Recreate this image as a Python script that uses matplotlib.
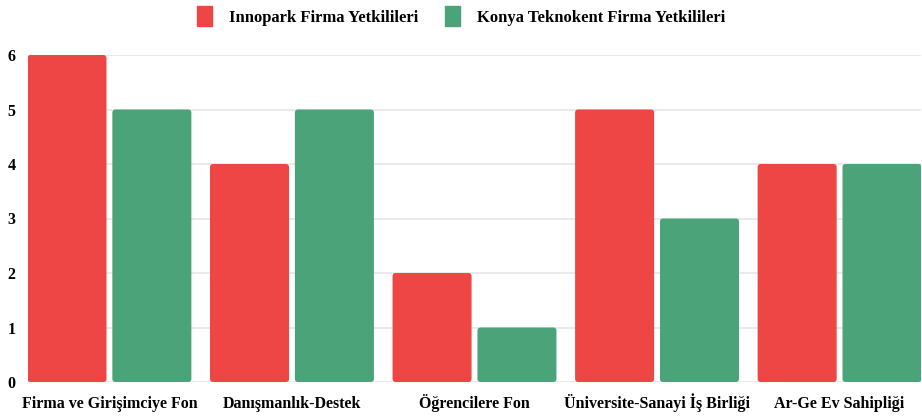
import matplotlib
matplotlib.use("Agg")
import matplotlib.pyplot as plt
import numpy as np
from matplotlib.patches import Patch, FancyBboxPatch

categories = ["Firma ve Girişimciye Fon", "Danışmanlık-Destek", "Öğrencilere Fon",
              "Üniversite-Sanayi İş Birliği", "Ar-Ge Ev Sahipliği"]
innopark = [6, 4, 2, 5, 4]
konya = [5, 5, 1, 3, 4]
series_names = ["Innopark Firma Yetkilileri", "Konya Teknokent Firma Yetkilileri"]

red = "#EE4545"
green = "#4BA479"

plt.rcParams['font.family'] = ['Liberation Serif', 'DejaVu Serif']
plt.rcParams['font.weight'] = 'bold'

fig = plt.figure(figsize=(9.22, 4.17), dpi=100)
ax = fig.add_axes([28 / 922, 1 - 382 / 417, 893 / 922, 327 / 417])

x = np.arange(len(categories))
w = 0.433
off = w / 2 + 0.016
bars = list(ax.bar(x - off, innopark, w, color=red, zorder=3)) + \
    list(ax.bar(x + off, konya, w, color=green, zorder=3))

# rounded corners
for b in bars:
    bx, by = b.get_xy()
    p = FancyBboxPatch((bx, by), b.get_width(), b.get_height(),
                       boxstyle="round,pad=0,rounding_size=0.018",
                       mutation_aspect=3.3, facecolor=b.get_facecolor(),
                       edgecolor="none", zorder=3)
    b.remove()
    ax.add_patch(p)

ax.set_xlim(-0.5 + 0.054, len(categories) - 0.5 - 0.054)
ax.set_ylim(0, 6)
ax.set_yticks(range(7))
ax.yaxis.grid(True, color="#e6e6e6", linewidth=1.2, zorder=0)
for s in ax.spines.values():
    s.set_visible(False)
ax.tick_params(axis="both", length=0, labelsize=11.5)
ax.tick_params(axis="y", pad=9)
ax.set_xticks(x)
ax.set_xticklabels(categories, va="baseline")
ax.tick_params(axis="x", pad=19)

fig.legend(handles=[Patch(color=red), Patch(color=green)], labels=series_names,
           loc="center", bbox_to_anchor=(0.5, 1 - 16 / 417), ncol=2, frameon=False,
           fontsize=12, handlelength=0.9, handleheight=1.4, columnspacing=1.6,
           handletextpad=1.0)

fig.savefig("out.png", dpi=100)
